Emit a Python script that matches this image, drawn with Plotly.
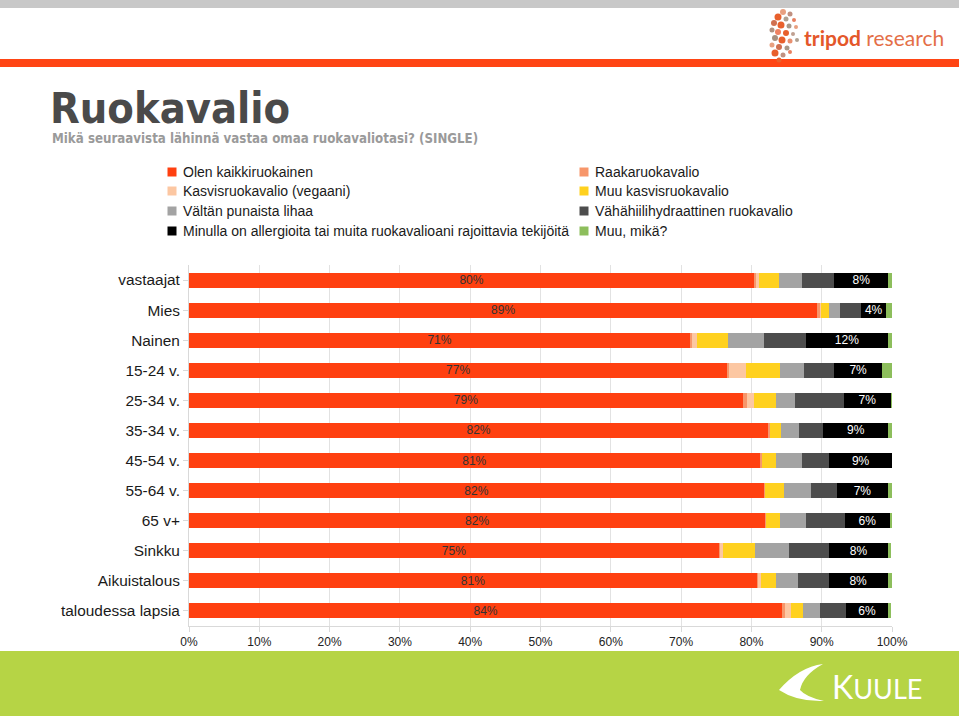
import plotly.graph_objects as go

W, H = 959, 719

categories = ["vastaajat", "Mies", "Nainen", "15-24 v.", "25-34 v.", "35-34 v.",
              "45-54 v.", "55-64 v.", "65 v+", "Sinkku", "Aikuistalous", "taloudessa lapsia"]

series_names = ["Olen kaikkiruokainen", "Raakaruokavalio", "Kasvisruokavalio (vegaani)",
                "Muu kasvisruokavalio", "Vältän punaista lihaa", "Vähähiilihydraattinen ruokavalio",
                "Minulla on allergioita tai muita ruokavalioani rajoittavia tekijöitä", "Muu, mikä?"]

olen      = [80.4, 89.4, 71.3, 76.6, 78.8, 82.4, 81.2, 81.8, 82.0, 75.4, 80.8, 84.4]
raaka     = [0.3, 0.4, 0.3, 0.2, 0.6, 0.3, 0.3, 0.1, 0.1, 0.2, 0.2, 0.4]
vegaani   = [0.4, 0.1, 0.6, 2.5, 1.0, 0.0, 0.0, 0.0, 0.0, 0.4, 0.3, 0.8]
muu_kasvis= [2.8, 1.1, 4.4, 4.7, 3.1, 1.5, 2.0, 2.8, 1.9, 4.5, 2.2, 1.8]
valtan    = [3.3, 1.6, 5.2, 3.5, 2.7, 2.6, 3.7, 3.8, 3.8, 4.8, 3.1, 2.3]
vahahiili = [4.6, 3.0, 6.0, 4.3, 7.0, 3.4, 3.8, 3.7, 5.5, 5.8, 4.4, 3.7]
allergia  = [7.7, 3.6, 11.6, 6.8, 6.6, 9.3, 9.1, 7.2, 6.4, 8.3, 8.4, 6.1]
muu       = [0.6, 0.8, 0.6, 1.4, 0.3, 0.5, 0.0, 0.6, 0.3, 0.4, 0.6, 0.3]

x_ticks = [0, 10, 20, 30, 40, 50, 60, 70, 80, 90, 100]

series_values = [olen, raaka, vegaani, muu_kasvis, valtan, vahahiili, allergia, muu]
colors = ["#FF4010", "#F7966A", "#FCC7A2", "#FFD11F", "#A3A3A3", "#4D4D4D", "#000000", "#8DBE5C"]
labelled = {0: "#333333", 6: "#FFFFFF"}

def px(x):
    return x / W

def py(y):
    return 1 - y / H

fig = go.Figure()
for i, (name, vals, col) in enumerate(zip(series_names, series_values, colors)):
    kw = {}
    if i in labelled:
        kw = dict(text=[f"{v:.0f}%" for v in vals], textposition="inside",
                  insidetextanchor="middle", textangle=0,
                  textfont=dict(family="Liberation Sans, Arial", size=12, color=labelled[i]),
                  constraintext="none")
    fig.add_trace(go.Bar(y=categories, x=vals, name=name, orientation="h",
                         marker=dict(color=col, line=dict(width=0)),
                         showlegend=False, hoverinfo="x+name", **kw))

shapes = []
annotations = []

# header bands and footer band
shapes.append(dict(type="rect", xref="paper", yref="paper", x0=0, x1=1, y0=py(8), y1=1,
                   fillcolor="#C8C8C8", line=dict(width=0), layer="below"))
shapes.append(dict(type="rect", xref="paper", yref="paper", x0=0, x1=1, y0=py(67), y1=py(59),
                   fillcolor="#FF4514", line=dict(width=0), layer="below"))
shapes.append(dict(type="rect", xref="paper", yref="paper", x0=0, x1=1, y0=py(716), y1=py(651),
                   fillcolor="#B6D445", line=dict(width=0), layer="below"))

# tripod logo dots (decorative)
dots = [(783, 12, 3, "#E8A080"), (790, 14, 2.5, "#C09080"), (778, 17, 3.5, "#E8602C"),
        (786, 19, 2.5, "#B0A090"), (794, 20, 2, "#E88060"), (774, 23, 3, "#D07050"),
        (781, 25, 3.5, "#E8602C"), (789, 26, 2.5, "#A89888"), (796, 27, 2, "#E8A080"),
        (772, 30, 2.5, "#B09080"), (778, 32, 3, "#F08060"), (786, 33, 3, "#E8602C"),
        (793, 34, 2, "#C0A090"), (775, 38, 3, "#A89080"), (782, 40, 3.5, "#E8602C"),
        (790, 41, 2.5, "#E89070"), (797, 40, 2, "#B0A090"), (772, 45, 2.5, "#E8A080"),
        (779, 47, 3, "#D07050"), (787, 48, 2.5, "#A89888"), (775, 53, 3.5, "#E8602C"),
        (783, 55, 2.5, "#C09080"), (790, 52, 2, "#E88060"), (779, 60, 2.5, "#E8602C")]
for (cx, cy, r, c) in dots:
    shapes.append(dict(type="circle", xref="paper", yref="paper",
                       x0=px(cx - r), x1=px(cx + r), y0=py(cy + r), y1=py(cy - r),
                       fillcolor=c, line=dict(width=0)))
annotations.append(dict(xref="paper", yref="paper", x=px(802), y=py(38), xanchor="left",
                        yanchor="middle", showarrow=False,
                        text="<b><span style='color:#E4572A'>tripod</span></b>"
                             "<span style='color:#E46F48'> research</span>",
                        font=dict(family="Lato, Liberation Sans", size=21)))

# KUULE logo
shapes.append(dict(type="path", xref="paper", yref="paper",
                   path=(f"M {px(779)} {py(690)} Q {px(799)} {py(667)} {px(823)} {py(664)} "
                         f"Q {px(803)} {py(675)} {px(800)} {py(690)} Q {px(806)} {py(697)} {px(824)} {py(701)} "
                         f"Q {px(797)} {py(702)} {px(779)} {py(690)} Z"),
                   fillcolor="#FFFFFF", line=dict(width=0)))
annotations.append(dict(xref="paper", yref="paper", x=px(830), y=py(686), xanchor="left",
                        yanchor="middle", showarrow=False, text="K<span style='font-size:27px'>UULE</span>",
                        font=dict(family="Lato, Liberation Sans", size=32, color="#FFFFFF")))

# title and subtitle
annotations.append(dict(xref="paper", yref="paper", x=px(48), y=py(108), xanchor="left",
                        yanchor="middle", showarrow=False, text="<b>Ruokavalio</b>",
                        font=dict(family="DejaVu Sans Condensed, DejaVu Sans", size=43, color="#4A4A4A")))
annotations.append(dict(xref="paper", yref="paper", x=px(50), y=py(138), xanchor="left",
                        yanchor="middle", showarrow=False,
                        text="<b>Mikä seuraavista lähinnä vastaa omaa ruokavaliotasi? (SINGLE)</b>",
                        font=dict(family="DejaVu Sans Condensed, DejaVu Sans", size=13.2, color="#9A9A9A")))

# legend (two columns, row-major like the original)
leg_rows = [172, 191, 211, 231]
leg_cols = [181, 593]
for i, (name, col) in enumerate(zip(series_names, colors)):
    r, c = divmod(i, 2)
    tx = leg_cols[c]
    y = leg_rows[r]
    sx = tx - 9
    shapes.append(dict(type="rect", xref="paper", yref="paper",
                       x0=px(sx - 4.5), x1=px(sx + 4.5), y0=py(y + 4.5), y1=py(y - 4.5),
                       fillcolor=col, line=dict(width=0)))
    annotations.append(dict(xref="paper", yref="paper", x=px(tx), y=py(y), xanchor="left",
                            yanchor="middle", showarrow=False, text=name,
                            font=dict(family="Liberation Sans, Arial", size=14, color="#1A1A1A")))

fig.update_layout(
    width=W, height=H, margin=dict(l=0, r=0, t=0, b=0), autosize=False,
    paper_bgcolor="#FFFFFF", plot_bgcolor="#FFFFFF",
    barmode="stack", bargap=0.5,
    shapes=shapes, annotations=annotations, showlegend=False,
    xaxis=dict(domain=[px(189), px(892)], range=[0, 100], tickvals=x_ticks,
               ticktext=[f"{t}%" for t in x_ticks], showgrid=True, gridcolor="#E2E2E2",
               gridwidth=1, zeroline=False, showline=True, linecolor="#D9D9D9",
               ticks="outside", ticklen=5, tickcolor="#D9D9D9", automargin=False,
               tickfont=dict(family="Liberation Sans, Arial", size=12, color="#222222"),
               anchor="y", fixedrange=True),
    yaxis=dict(domain=[py(626), py(265)], autorange="reversed", type="category",
               showgrid=False, showline=True, linecolor="#D9D9D9", ticks="outside",
               ticklen=5, tickcolor="#D9D9D9", zeroline=False, automargin=False,
               tickfont=dict(family="Liberation Sans, Arial", size=15.4, color="#1A1A1A"),
               fixedrange=True),
)

post = ("document.documentElement.style.margin='0';document.documentElement.style.padding='0';"
        "document.documentElement.style.overflow='hidden';"
        "document.body.style.margin='0';document.body.style.padding='0';"
        "document.body.style.overflow='hidden';")
fig.write_html("out.html", config={"responsive": False, "displayModeBar": False}, post_script=post)
